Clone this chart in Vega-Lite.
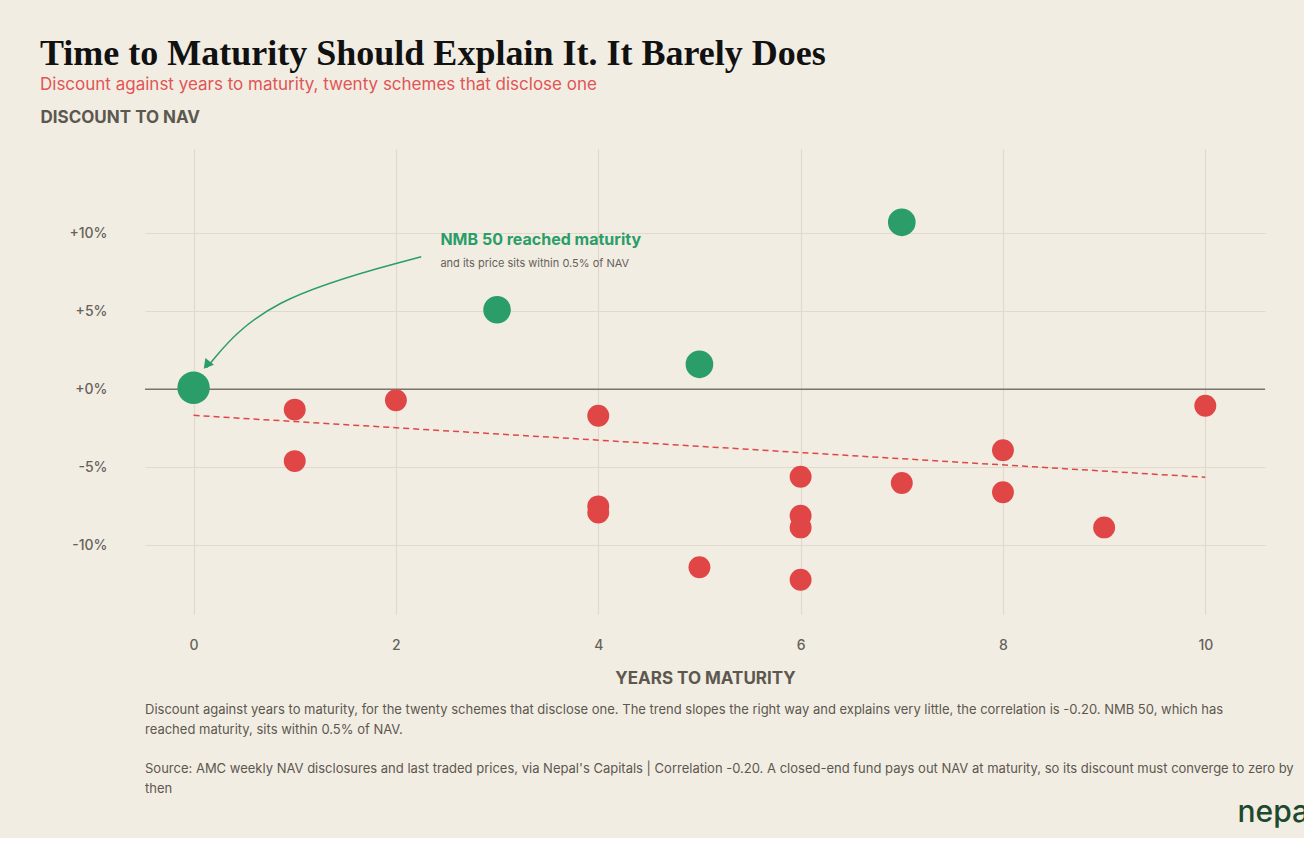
{
  "$schema": "https://vega.github.io/schema/vega-lite/v6.json",
  "background": "#f2ede3",
  "padding": {"left": 40, "top": 36, "right": 30, "bottom": 10},
  "title": {
    "text": "Time to Maturity Should Explain It. It Barely Does",
    "subtitle": "Discount against years to maturity, twenty schemes that disclose one",
    "anchor": "start",
    "font": "Liberation Sans Narrow",
    "fontSize": 36,
    "fontWeight": "bold",
    "color": "#111111",
    "subtitleFont": "Inter",
    "subtitleFontSize": 17,
    "subtitleColor": "#e05555",
    "subtitlePadding": 4,
    "offset": 14
  },
  "config": {
    "view": {"stroke": null},
    "font": "Inter"
  },
  "spacing": 18,
  "vconcat": [
    {
      "width": 1120,
      "height": 465,
      "layer": [
        {
          "data": {"values": [{"y": 0}]},
          "mark": {"type": "rule", "color": "#77756d", "strokeWidth": 1.5},
          "encoding": {"y": {"field": "y", "type": "quantitative"}}
        },
        {
          "data": {"values": [{"x": 0, "y": -1.67}, {"x": 10, "y": -5.64}]},
          "mark": {"type": "line", "color": "#e04646", "strokeDash": [6, 4], "strokeWidth": 1.5},
          "encoding": {
            "x": {"field": "x", "type": "quantitative"},
            "y": {"field": "y", "type": "quantitative"}
          }
        },
        {
          "data": {"values": [
            {"years": 0, "discount": 0.1, "group": "mature"},
            {"years": 1, "discount": -1.3, "group": "below"},
            {"years": 1, "discount": -4.6, "group": "below"},
            {"years": 2, "discount": -0.7, "group": "below"},
            {"years": 3, "discount": 5.1, "group": "above"},
            {"years": 4, "discount": -1.7, "group": "below"},
            {"years": 4, "discount": -7.5, "group": "below"},
            {"years": 4, "discount": -7.9, "group": "below"},
            {"years": 5, "discount": 1.6, "group": "above"},
            {"years": 5, "discount": -11.4, "group": "below"},
            {"years": 6, "discount": -5.6, "group": "below"},
            {"years": 6, "discount": -8.1, "group": "below"},
            {"years": 6, "discount": -8.85, "group": "below"},
            {"years": 6, "discount": -12.2, "group": "below"},
            {"years": 7, "discount": 10.7, "group": "above"},
            {"years": 7, "discount": -6.0, "group": "below"},
            {"years": 8, "discount": -3.9, "group": "below"},
            {"years": 8, "discount": -6.6, "group": "below"},
            {"years": 9, "discount": -8.85, "group": "below"},
            {"years": 10, "discount": -1.05, "group": "below"}
          ]},
          "mark": {"type": "circle", "opacity": 1},
          "encoding": {
            "x": {
              "field": "years", "type": "quantitative",
              "scale": {"domain": [-0.48, 10.59], "nice": false, "zero": false},
              "axis": {
                "values": [0, 2, 4, 6, 8, 10], "format": "d", "title": "YEARS TO MATURITY",
                "domain": false, "ticks": false, "labelPadding": 24,
                "labelFontSize": 14, "labelColor": "#66625a", "labelFontWeight": 500,
                "titleFontSize": 17, "titleColor": "#5c584f", "titleFontWeight": "bold", "titlePadding": 18,
                "gridColor": "#e0d9cc", "gridWidth": 1.2
              }
            },
            "y": {
              "field": "discount", "type": "quantitative",
              "scale": {"domain": [-14.4, 15.4], "nice": false, "zero": false},
              "axis": {
                "values": [-10, -5, 0, 5, 10],
                "labelExpr": "(datum.value >= 0 ? '+' : '') + datum.value + '%'",
                "title": "DISCOUNT TO NAV", "titleAngle": 0, "titleAlign": "left",
                "titleX": -105, "titleY": -32, "titleBaseline": "middle",
                "titleFontSize": 17, "titleColor": "#5c584f", "titleFontWeight": "bold",
                "domain": false, "ticks": false, "labelPadding": 38,
                "labelFontSize": 14, "labelColor": "#66625a", "labelFontWeight": 500,
                "gridColor": "#e0d9cc", "gridWidth": 1.2
              }
            },
            "color": {
              "field": "group", "type": "nominal",
              "scale": {"domain": ["mature", "above", "below"], "range": ["#2a9d68", "#2a9d68", "#e04646"]},
              "legend": null
            },
            "size": {
              "field": "group", "type": "nominal",
              "scale": {"domain": ["mature", "above", "below"], "range": [1050, 480, 480]},
              "legend": null
            }
          }
        },
        {
          "data": {"values": [
            {"x": 2.25, "y": 8.5},
            {"x": 0.7, "y": 5.8},
            {"x": 0.13, "y": 1.4}
          ]},
          "mark": {"type": "line", "color": "#2a9d68", "strokeWidth": 1.5, "interpolate": "basis"},
          "encoding": {
            "x": {"field": "x", "type": "quantitative"},
            "y": {"field": "y", "type": "quantitative"}
          }
        },
        {
          "data": {"values": [{"x": 0.13, "y": 1.55}]},
          "mark": {"type": "point", "shape": "triangle-down", "filled": true, "color": "#2a9d68", "size": 120, "angle": 38, "opacity": 1},
          "encoding": {
            "x": {"field": "x", "type": "quantitative"},
            "y": {"field": "y", "type": "quantitative"}
          }
        },
        {
          "data": {"values": [{"x": 2.44, "y": 9.55, "label": "NMB 50 reached maturity"}]},
          "mark": {"type": "text", "align": "left", "baseline": "middle", "fontSize": 16, "fontWeight": "bold", "color": "#2a9d68"},
          "encoding": {
            "x": {"field": "x", "type": "quantitative"},
            "y": {"field": "y", "type": "quantitative"},
            "text": {"field": "label"}
          }
        },
        {
          "data": {"values": [{"x": 2.44, "y": 8.0, "label": "and its price sits within 0.5% of NAV"}]},
          "mark": {"type": "text", "align": "left", "baseline": "middle", "fontSize": 11, "color": "#66625a"},
          "encoding": {
            "x": {"field": "x", "type": "quantitative"},
            "y": {"field": "y", "type": "quantitative"},
            "text": {"field": "label"}
          }
        }
      ]
    },
    {
      "width": 1224,
      "height": 105,
      "layer": [
        {
          "data": {"values": [
            {"row": 0, "kind": "bold", "line": "Discount against years to maturity, for the twenty schemes that disclose one. The trend slopes the right way and explains very little, the correlation is -0.20. NMB 50, which has"},
            {"row": 20, "kind": "bold", "line": "reached maturity, sits within 0.5% of NAV."},
            {"row": 59, "kind": "normal", "line": "Source: AMC weekly NAV disclosures and last traded prices, via Nepal's Capitals | Correlation -0.20. A closed-end fund pays out NAV at maturity, so its discount must converge to zero by"},
            {"row": 79, "kind": "normal", "line": "then"}
          ]},
          "mark": {"type": "text", "align": "left", "baseline": "middle", "fontSize": 13, "color": "#5c584f"},
          "encoding": {
            "x": {"value": 0},
            "y": {"field": "row", "type": "quantitative", "scale": {"domain": [0, 105], "range": [0, 105]}, "axis": null},
            "text": {"field": "line"},
            "fontWeight": {"field": "kind", "type": "nominal", "scale": {"domain": ["bold", "normal"], "range": [600, "normal"]}, "legend": null}
          }
        },
        {
          "data": {"values": [{"row": 103, "line": "nepalytix"}]},
          "mark": {"type": "text", "align": "right", "baseline": "middle", "fontSize": 30, "color": "#1d4a2e", "font": "Inter", "fontWeight": 500},
          "encoding": {
            "x": {"value": 1224},
            "y": {"field": "row", "type": "quantitative", "scale": {"domain": [0, 105], "range": [0, 105]}, "axis": null},
            "text": {"field": "line"}
          }
        }
      ]
    }
  ]
}
